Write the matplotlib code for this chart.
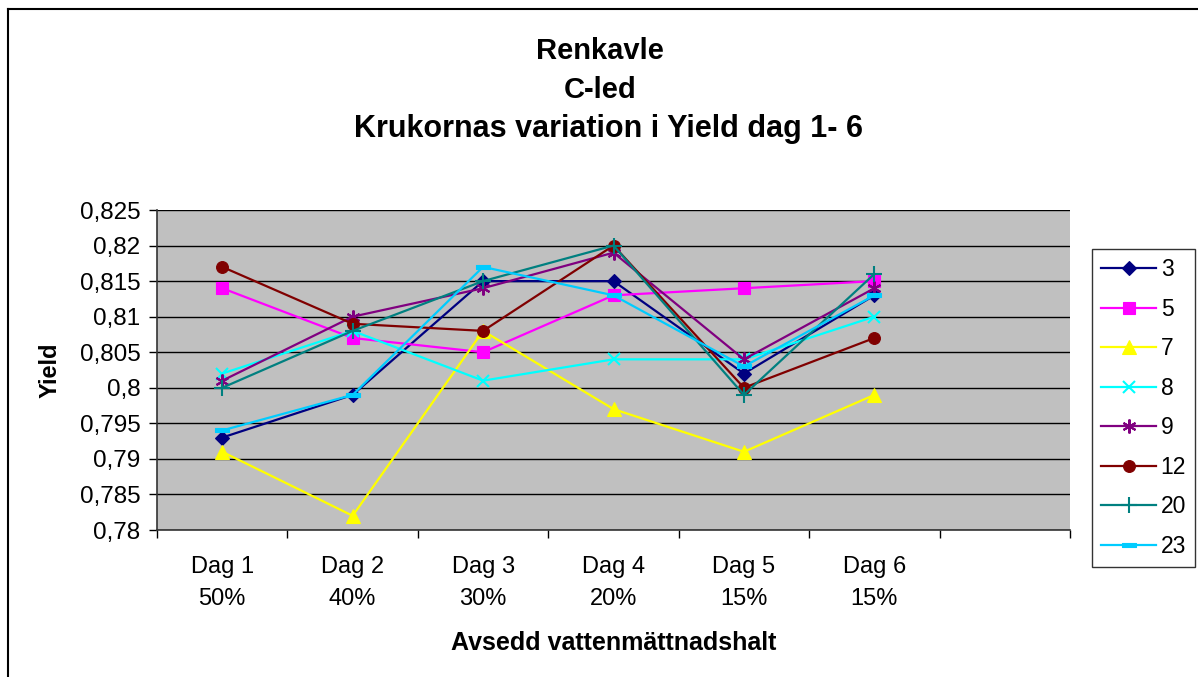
import matplotlib.pyplot as plt
from matplotlib.lines import Line2D
from matplotlib.ticker import FixedLocator, FuncFormatter, NullFormatter

plt.rcParams['font.family'] = ['Liberation Sans', 'DejaVu Sans']

categories = ['Dag 1\n50%', 'Dag 2\n40%', 'Dag 3\n30%', 'Dag 4\n20%', 'Dag 5\n15%', 'Dag 6\n15%']
pots = ['3', '5', '7', '8', '9', '12', '20', '23']

yield_3 = [0.793, 0.799, 0.815, 0.815, 0.802, 0.813]
yield_5 = [0.814, 0.807, 0.805, 0.813, 0.814, 0.815]
yield_7 = [0.791, 0.782, 0.808, 0.797, 0.791, 0.799]
yield_8 = [0.802, 0.808, 0.801, 0.804, 0.804, 0.810]
yield_9 = [0.801, 0.810, 0.814, 0.819, 0.804, 0.814]
yield_12 = [0.817, 0.809, 0.808, 0.820, 0.800, 0.807]
yield_20 = [0.800, 0.808, 0.815, 0.820, 0.799, 0.816]
yield_23 = [0.794, 0.799, 0.817, 0.813, 0.803, 0.813]

y_ticks = [0.78, 0.785, 0.79, 0.795, 0.8, 0.805, 0.81, 0.815, 0.82, 0.825]

series = [yield_3, yield_5, yield_7, yield_8, yield_9, yield_12, yield_20, yield_23]
colors = ['#000080', '#FF00FF', '#FFFF00', '#00FFFF', '#800080', '#800000', '#008080', '#00CCFF']
dash = [(-1, -0.3), (1, -0.3), (1, 0.3), (-1, 0.3), (-1, -0.3)]
markers = ['D', 's', '^', 'x', (6, 2, 0), 'o', '+', dash]
msizes = [7.5, 8, 9.5, 9, 10, 8.5, 11, 10]

fig = plt.figure(figsize=(11.98, 6.77), dpi=100)
ax = fig.add_axes([157 / 1198, 1 - 530 / 677, 913 / 1198, 320 / 677])
ax.set_facecolor('#C0C0C0')

x = list(range(len(categories)))
handles = []
for vals, c, m, ms, name in zip(series, colors, markers, msizes, pots):
    thin = m in ('x', '+') or isinstance(m, tuple)
    h, = ax.plot(x, vals, color=c, lw=1.6, marker=m, markersize=ms,
                 markerfacecolor=c, markeredgecolor=c,
                 markeredgewidth=1.5 if thin else 0.8, label=name)
    handles.append(h)

ax.set_xlim(-0.5, 6.5)
ax.set_ylim(0.78, 0.825)
ax.yaxis.set_major_locator(FixedLocator(y_ticks))
ax.yaxis.set_major_formatter(FuncFormatter(lambda v, p: ('%.3f' % v).rstrip('0').replace('.', ',')))
ax.grid(axis='y', color='black', lw=1)
ax.set_axisbelow(True)

ax.set_xticks(x)
ax.set_xticklabels(categories, fontsize=17, linespacing=1.55)
ax.xaxis.set_minor_locator(FixedLocator([k - 0.5 for k in range(8)]))
ax.xaxis.set_minor_formatter(NullFormatter())
ax.tick_params(axis='x', which='major', length=0, pad=19)
ax.tick_params(axis='x', which='minor', length=6, width=1, direction='out')
ax.tick_params(axis='y', labelsize=17.5, length=6, width=1, direction='out', pad=6)

for s in ['top', 'right']:
    ax.spines[s].set_visible(False)
for s in ['left', 'bottom']:
    ax.spines[s].set_color('#333333')
    ax.spines[s].set_linewidth(1.2)

ax.set_xlabel('Avsedd vattenmättnadshalt', fontsize=18, fontweight='bold', labelpad=15)
ax.set_ylabel('Yield', fontsize=17, fontweight='bold', labelpad=13)

fig.text(600 / 1198, 1 - 51 / 677, 'Renkavle', ha='center', va='center', fontsize=21, fontweight='bold')
fig.text(600 / 1198, 1 - 90 / 677, 'C-led', ha='center', va='center', fontsize=21, fontweight='bold')
fig.text(608 / 1198, 1 - 129 / 677, 'Krukornas variation i Yield dag 1- 6', ha='center', va='center',
         fontsize=22, fontweight='bold')

leg = fig.legend(handles=handles, loc='center left', bbox_to_anchor=(1092 / 1198, 1 - 408 / 677),
                 fontsize=16.5, frameon=True, fancybox=False, numpoints=1, handlelength=2.4,
                 handletextpad=0.2, labelspacing=0.72, borderpad=0.4, borderaxespad=0)
leg.get_frame().set_edgecolor('black')
leg.get_frame().set_linewidth(1)

# outer chart border (left and top visible)
fig.add_artist(Line2D([8 / 1198, 8 / 1198], [0, 1 - 9 / 677], color='black', lw=1.5, transform=fig.transFigure))
fig.add_artist(Line2D([8 / 1198, 1], [1 - 9 / 677, 1 - 9 / 677], color='black', lw=1.5, transform=fig.transFigure))

fig.savefig('out.png', dpi=100)
